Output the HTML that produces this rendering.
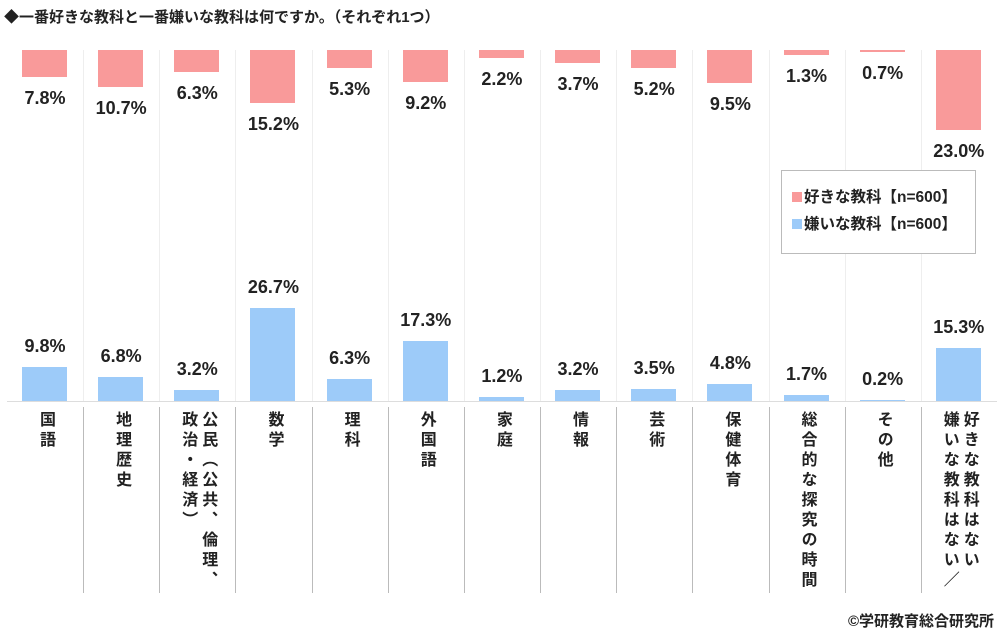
<!DOCTYPE html>
<html><head><meta charset="utf-8"><style>
body{margin:0;width:1000px;height:642px;background:#fff;overflow:hidden;position:relative;font-family:"Liberation Sans","Noto Sans CJK JP",sans-serif;color:#222}
.a{position:absolute}
.t{font-size:18px;font-weight:bold;text-align:center;width:76px;line-height:20px}
.c{writing-mode:vertical-rl;font-size:16px;font-weight:bold;line-height:20px;letter-spacing:4px;position:absolute;top:411px}
</style></head><body>
<div class="a" style="left:4px;top:6px;font-size:15px;font-weight:bold">◆一番好きな教科と一番嫌いな教科は何ですか。（それぞれ1つ）</div>
<div id="g"></div>
<div class="a" style="left:7px;top:401px;width:990px;height:1px;background:#ddd"></div>
<div class="a" style="left:781px;top:170px;width:193px;height:82px;border:1px solid #bbb;background:#fff"></div>
<div class="a" style="left:792px;top:184px;font-size:15.5px;font-weight:bold;line-height:27px">
<div><span style="display:inline-block;width:10px;height:10px;background:#f99a9a;margin-right:2px"></span>好きな教科【n=600】</div>
<div><span style="display:inline-block;width:10px;height:10px;background:#9dcbf9;margin-right:2px"></span>嫌いな教科【n=600】</div></div>
<div class="a" style="right:6px;top:610px;font-size:15px;font-weight:bold">©学研教育総合研究所</div>
<script>
var like=[7.8,10.7,6.3,15.2,5.3,9.2,2.2,3.7,5.2,9.5,1.3,0.7,23.0];
var dis=[9.8,6.8,3.2,26.7,6.3,17.3,1.2,3.2,3.5,4.8,1.7,0.2,15.3];
var cat=["国語","地理歴史","公民（公共、倫理、<br>政治・経済）","数学","理科","外国語","家庭","情報","芸術","保健体育","総合的な探究の時間","その他","好きな教科はない<br>嫌いな教科はない／"];
var h="",k=3.47,p=76.15;
for(var i=0;i<13;i++){var x=7+p*i,cx=x+38;
if(i>0){h+='<div class="a" style="left:'+Math.round(x)+'px;top:50px;width:1px;height:351px;background:#eee"></div>';
h+='<div class="a" style="left:'+Math.round(x)+'px;top:407px;width:1px;height:186px;background:#bbb"></div>';}
var lh=like[i]*k,dh=dis[i]*k;
h+='<div class="a" style="left:'+(cx-23)+'px;top:50px;width:45px;height:'+lh+'px;background:#f99a9a"></div>';
h+='<div class="a t" style="left:'+(cx-38)+'px;top:'+(50+lh+11)+'px">'+like[i].toFixed(1)+'%</div>';
h+='<div class="a" style="left:'+(cx-23)+'px;top:'+(401-dh)+'px;width:45px;height:'+dh+'px;background:#9dcbf9"></div>';
h+='<div class="a t" style="left:'+(cx-38)+'px;top:'+(401-dh-31)+'px">'+dis[i].toFixed(1)+'%</div>';
var two=cat[i].indexOf("<br>")>=0;
h+='<div class="c" style="left:'+(cx-(two?20:10))+'px">'+cat[i]+'</div>';}
document.getElementById("g").innerHTML=h;
</script>
</body></html>
